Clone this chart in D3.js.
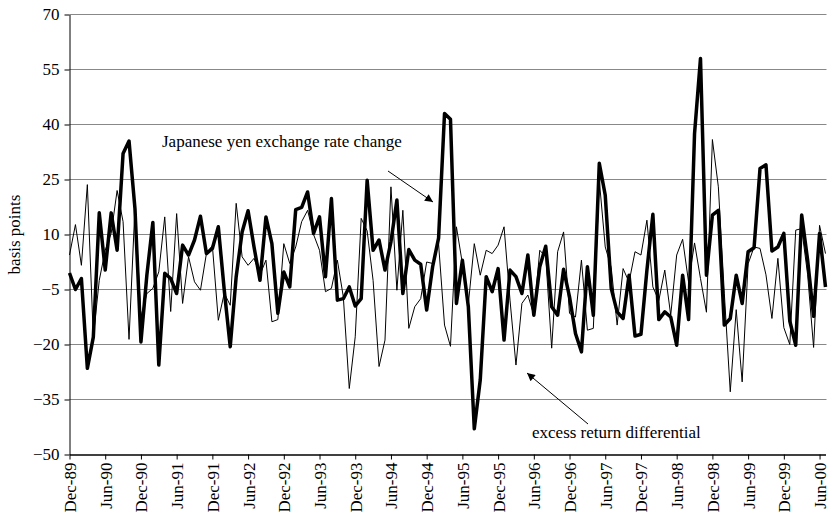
<!DOCTYPE html>
<html>
<head>
<meta charset="utf-8">
<script src="https://cdn.jsdelivr.net/npm/d3@7"></script>
<style>
    body { margin: 0; background: white; }
</style>
</head>
<body>
<script>
// monthly observations, Dec-89 .. Jul-00
const firstMonth = new Date(1989, 11, 1);

// basis points, thick line
const yenChange = [
    -0.5, -5, -2, -26.5, -18, 15.9, 0.3, 15.9, 5.7, 32.1, 35.5, 17, -19.3,
    -1, 13.3, -25.6, -0.6, -2, -6.1, 7.1, 4.4, 8.5, 15, 4.8, 6.2,
    12.1, -5.2, -20.6, -1.5, 10.7, 16.5, 6.6, -2.5, 14.8, 7.5, -11.5, -0.2,
    -4.3, 16.8, 17.4, 21.6, 10.3, 14.8, -1.5, 19.8, -7.9, -7.5, -4.3, -9.5,
    -7.5, 24.8, 5.7, 8.5, 0.3, 8, 19.4, -6.1, 5.9, 3, 1.9, -10.6,
    1.2, 9, 43, 41.4, -8.8, 3, -9.7, -43, -29.7, -1.5, -5.6, 0.7,
    -18.8, 0.3, -1.5, -6.1, 4.4, -12, 1.2, 6.8, -9.7, -12, 0.5, -7,
    -17, -22, 1.2, -12, 29.4, 20.7, -4.7, -11.1, -12.9, -1.1, -17.7, -17.2,
    0.3, 15.5, -13.2, -11.1, -12.5, -20.2, -1.1, -13.2, 37.5, 58, -1.1, 15.3,
    16.6, -14.7, -12.9, -1.1, -8.8, 5.3, 6.4, 28, 29, 5.5, 6.6, 10.3,
    -13.6, -20.2, 15.3, 3, -12.3, 10.3, -4.3
];

// basis points, thin line
const excessReturn = [
    4.4, 12.7, 1.6, 23.6, -18, -2.5, 5.7, 10.3, 22, 13.5, -18.6, 17.5, -12.5,
    -6.1, -4.7, -0.2, 14.8, -11, 15.7, -8.8, 3.9, -2.9, -5.2, 4.8, 7,
    -13.4, -6, -9.3, 18.5, 3.9, 1.6, 3.5, -1, 3, -13.8, -13.2, 7.5,
    2.1, 6.6, 13.5, 16.6, 10, 5.7, -5.6, -4.7, 3, -7, -32, -17.9,
    14.4, 11, -2.5, -26, -18.8, 23, -5.2, 16.6, -15.6, -9.7, -7.5, 2.5,
    2.1, 7.5, -14.7, -20.5, 12.1, 2.1, -9, 7.5, -1.1, 5.7, 4.8, 7.1,
    12.1, -7.9, -25.6, -8.8, -6.5, -12, 5.7, 3.9, -21, 5.3, 10.7, -11.5,
    -12.5, 3, -16.1, -15.6, 24.8, 6.6, 1, -14.7, 0.7, -3, 5.3, 4.4,
    13.9, -4.3, -8, 0.3, -12, 4.4, 8.7, -3, 7.7, -2, -11.2, 35.9,
    23, -6, -32.9, -10.5, -30.2, 2, 6.6, 6.2, -1, -12.9, 3.5, -15.4,
    -20, 11.2, 11.6, -1, -20.8, 12.5, 4.8
];

const tickLabels = ["Dec-89", "Jun-90", "Dec-90", "Jun-91", "Dec-91", "Jun-92", "Dec-92",
    "Jun-93", "Dec-93", "Jun-94", "Dec-94", "Jun-95", "Dec-95", "Jun-96", "Dec-96",
    "Jun-97", "Dec-97", "Jun-98", "Dec-98", "Jun-99", "Dec-99", "Jun-00"];
const yTicks = [-50, -35, -20, -5, 10, 25, 40, 55, 70];

const months = d3.range(yenChange.length).map(i => d3.timeMonth.offset(firstMonth, i));

const width = 829, height = 521;
const plotLeft = 69.5, plotRight = 825.5, plotTop = 14.5, plotBottom = 454.5;
const serif = "'Times New Roman', 'Liberation Serif', serif";

const svg = d3.select("body").append("svg")
    .attr("width", width)
    .attr("height", height)
    .attr("font-family", serif);

const x = d3.scaleLinear().domain([0, months.length - 1]).range([plotLeft, plotRight]);
const y = d3.scaleLinear().domain([-50, 70]).range([plotBottom, plotTop]);

// gridlines
svg.append("g")
    .selectAll("line")
    .data(yTicks.filter(d => d > -50))
    .join("line")
    .attr("x1", plotLeft).attr("x2", plotRight + 1)
    .attr("y1", d => y(d)).attr("y2", d => y(d))
    .attr("stroke", "#888")
    .attr("stroke-width", 1);

// y axis
const yAxis = svg.append("g")
    .attr("transform", `translate(${plotLeft},0)`)
    .call(d3.axisLeft(y).tickValues(yTicks).tickSize(5).tickPadding(5).tickSizeOuter(0))
    .attr("font-family", serif)
    .attr("font-size", 17);
yAxis.selectAll("text").attr("fill", "black");
yAxis.select(".domain").attr("stroke", "black");

// x axis, a tick every six months
const xTickIdx = d3.range(0, months.length, 6);
const xAxis = svg.append("g")
    .attr("transform", `translate(0,${plotBottom})`)
    .call(d3.axisBottom(x).tickValues(xTickIdx).tickFormat((d, i) => tickLabels[i])
        .tickSize(5).tickSizeOuter(0))
    .attr("font-family", serif)
    .attr("font-size", 17);
xAxis.select(".domain").attr("stroke", "black").attr("stroke-width", 1.5);
xAxis.selectAll("text")
    .attr("fill", "black")
    .attr("text-anchor", "end")
    .attr("transform", "rotate(-90)")
    .attr("x", -8)
    .attr("y", 0)
    .attr("dy", "0.35em");

svg.append("text")
    .attr("transform", `translate(20,${(plotTop + plotBottom) / 2}) rotate(-90)`)
    .attr("text-anchor", "middle")
    .attr("font-size", 17)
    .text("basis points");

const line = d3.line()
    .x((d, i) => x(i))
    .y(d => y(d));

svg.append("path")
    .datum(excessReturn)
    .attr("d", line)
    .attr("fill", "none")
    .attr("stroke", "black")
    .attr("stroke-width", 1)
    .attr("stroke-linejoin", "round");

svg.append("path")
    .datum(yenChange)
    .attr("d", line)
    .attr("fill", "none")
    .attr("stroke", "black")
    .attr("stroke-width", 3.5)
    .attr("stroke-linejoin", "round");

// annotations
svg.append("defs").append("marker")
    .attr("id", "head")
    .attr("viewBox", "0 0 10 10")
    .attr("refX", 10).attr("refY", 5)
    .attr("markerWidth", 11).attr("markerHeight", 8)
    .attr("markerUnits", "userSpaceOnUse")
    .attr("orient", "auto")
    .append("path")
    .attr("d", "M0,0L10,5L0,10Z")
    .attr("fill", "black");

svg.append("text")
    .attr("x", 162).attr("y", 147)
    .attr("font-size", 17)
    .text("Japanese yen exchange rate change");
svg.append("line")
    .attr("x1", 388).attr("y1", 171).attr("x2", 433).attr("y2", 202)
    .attr("stroke", "black").attr("stroke-width", 1)
    .attr("marker-end", "url(#head)");

svg.append("text")
    .attr("x", 532).attr("y", 438)
    .attr("font-size", 17)
    .text("excess return differential");
svg.append("line")
    .attr("x1", 588).attr("y1", 424).attr("x2", 527).attr("y2", 373)
    .attr("stroke", "black").attr("stroke-width", 1)
    .attr("marker-end", "url(#head)");
</script>
</body>
</html>
